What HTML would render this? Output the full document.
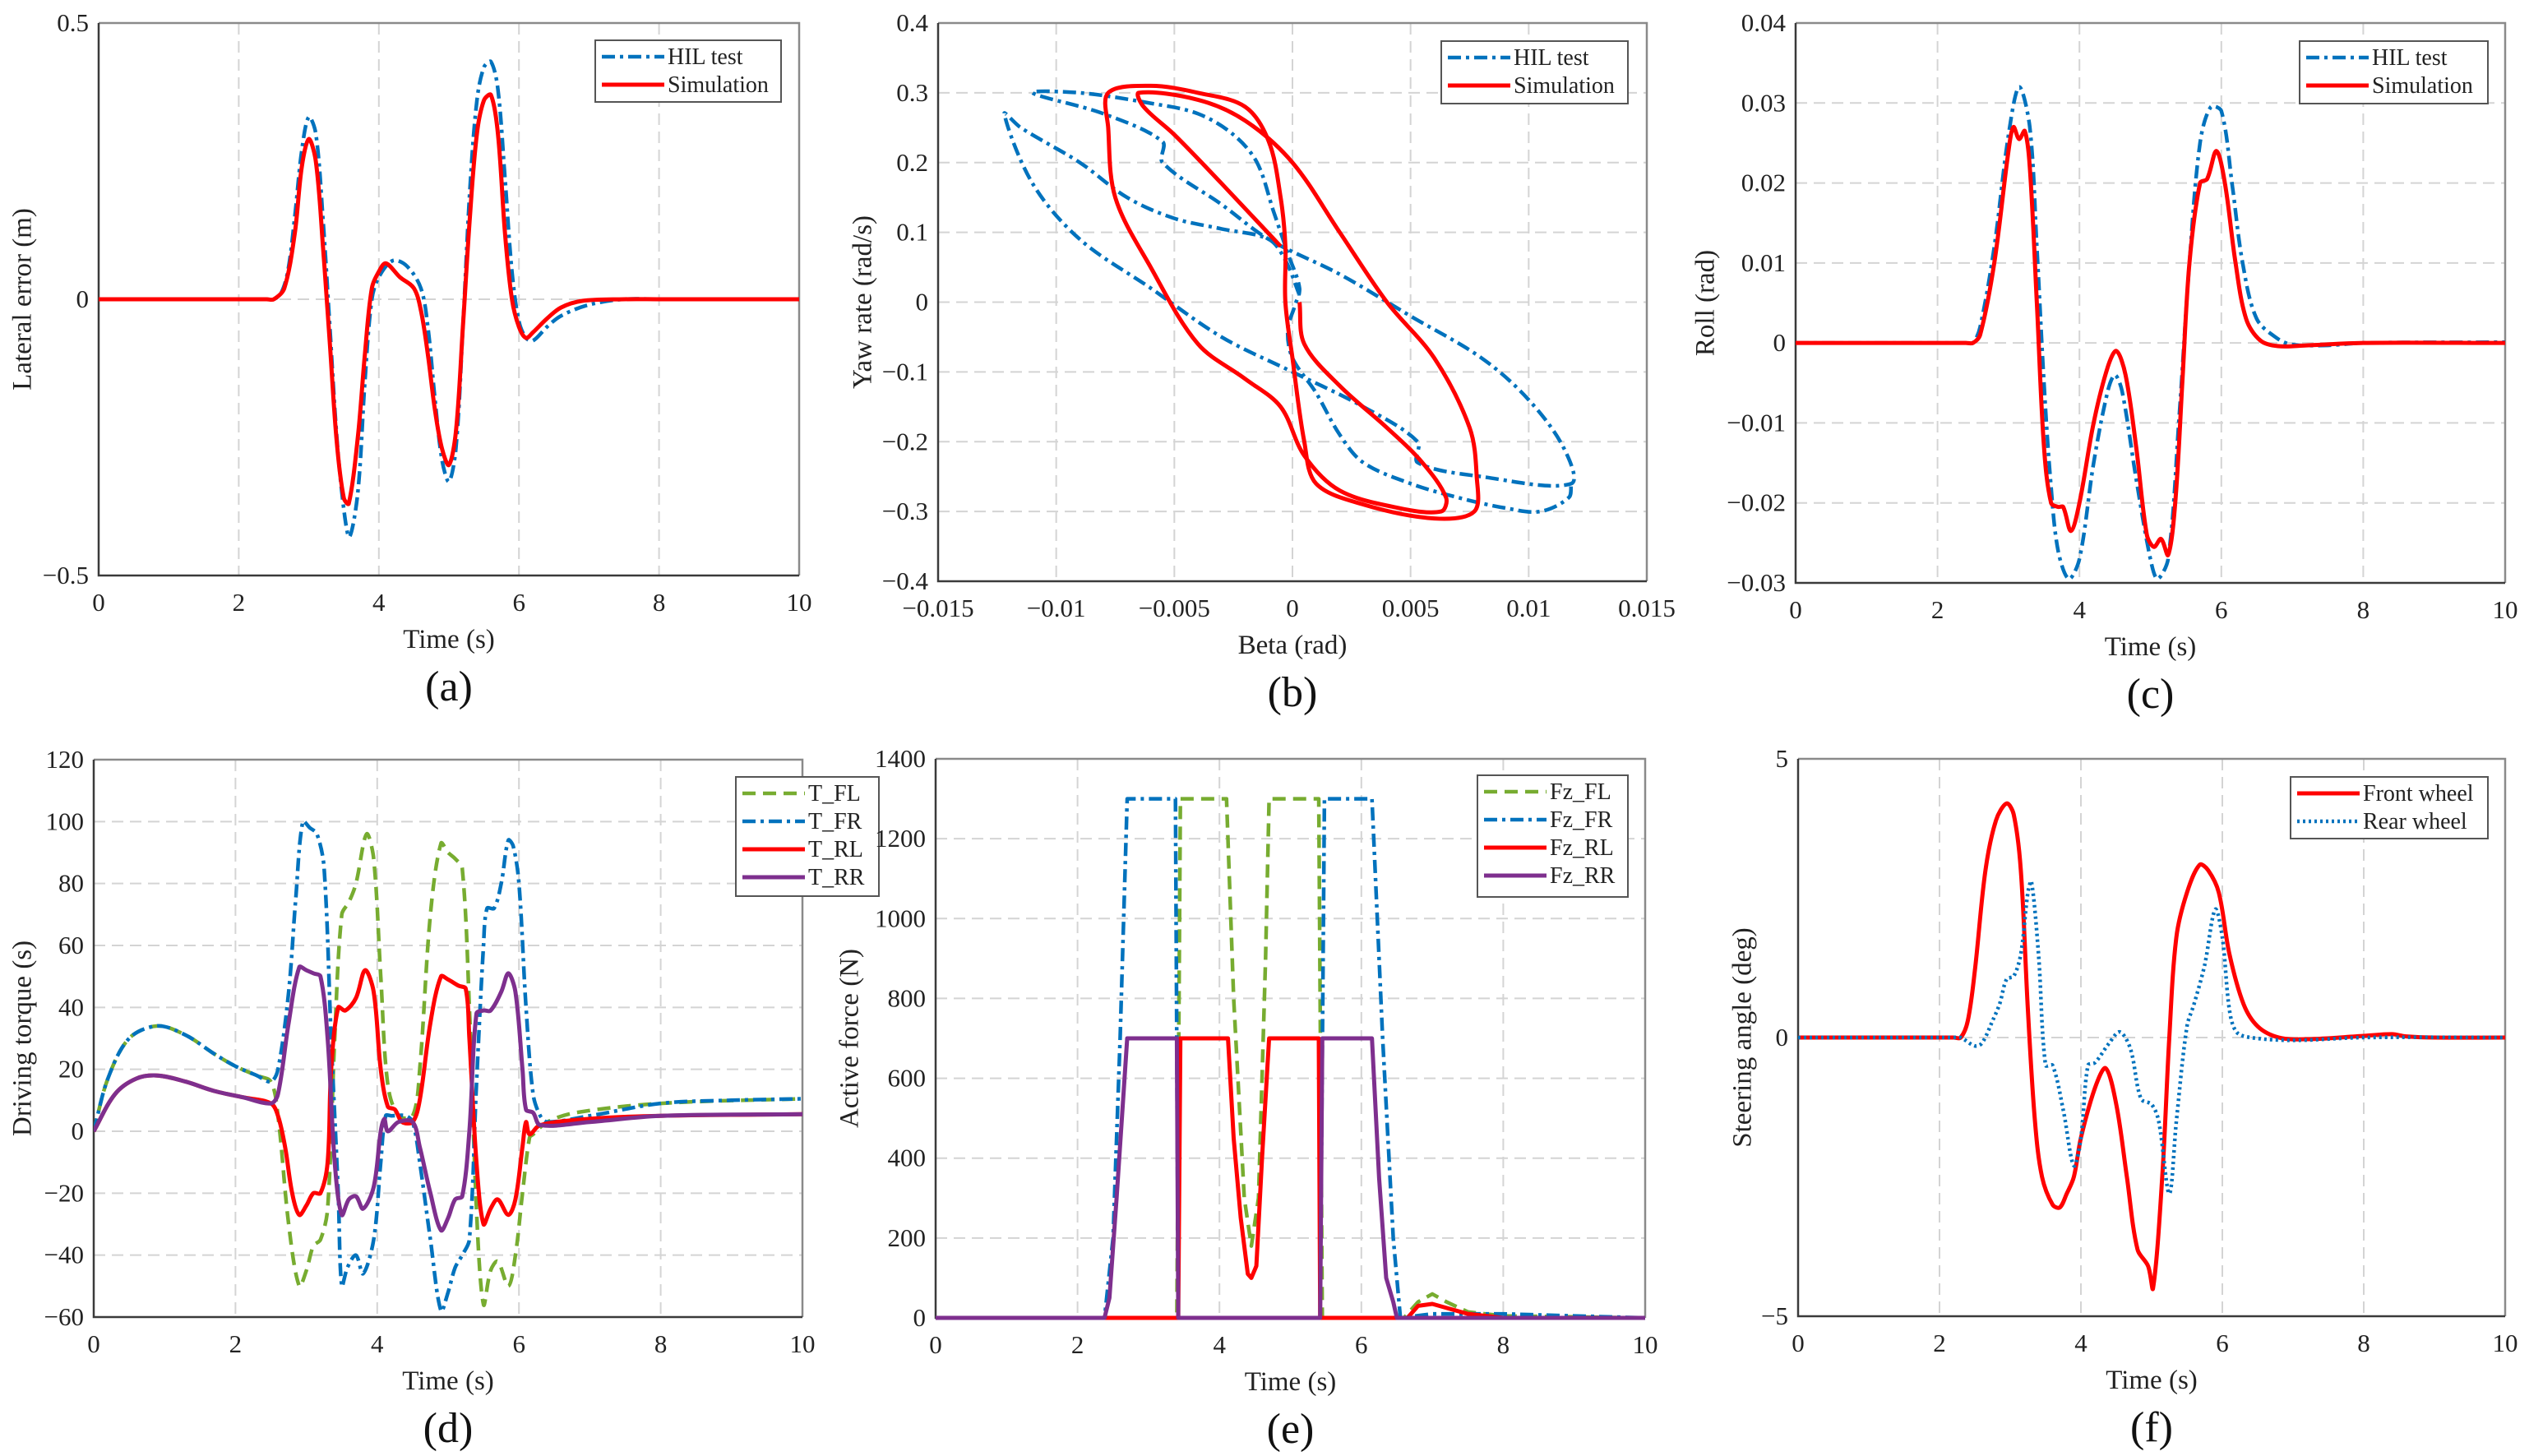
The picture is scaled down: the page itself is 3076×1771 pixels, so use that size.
<!DOCTYPE html>
<html><head><meta charset="utf-8"><style>
html,body{margin:0;padding:0;background:#fff;}
svg{display:block;font-family:"Liberation Serif",serif;}
</style></head><body>
<svg id="fig" width="3076" height="1771" viewBox="0 0 3076 1771" xmlns="http://www.w3.org/2000/svg"></svg>
<script>
// ---------- Panel (a) lateral error ----------
const aHilT=[0,2.0,2.4,2.5,2.6,2.7,2.8,2.9,3.0,3.1,3.2,3.3,3.4,3.5,3.58,3.7,3.8,3.9,4.0,4.2,4.4,4.6,4.7,4.8,4.9,5.0,5.1,5.2,5.3,5.4,5.5,5.6,5.7,5.8,5.9,6.0,6.1,6.2,6.4,6.6,7.0,7.5,8,10];
const aHilV=[0,0,0,0,0.01,0.05,0.15,0.27,0.33,0.3,0.15,-0.05,-0.25,-0.38,-0.43,-0.35,-0.15,0,0.04,0.07,0.06,0.02,-0.05,-0.18,-0.29,-0.33,-0.27,-0.05,0.2,0.36,0.42,0.43,0.38,0.22,0.05,-0.04,-0.07,-0.075,-0.05,-0.03,-0.01,0,0,0];
const aSimT=[0,2.0,2.4,2.5,2.65,2.8,2.9,3.0,3.1,3.2,3.3,3.4,3.5,3.57,3.7,3.8,3.9,4.0,4.1,4.3,4.5,4.6,4.7,4.8,4.9,5.0,5.1,5.2,5.3,5.4,5.5,5.6,5.7,5.8,5.9,6.0,6.1,6.2,6.4,6.6,6.9,7.5,8,10];
const aSimV=[0,0,0,0,0.02,0.12,0.24,0.29,0.25,0.1,-0.08,-0.26,-0.36,-0.37,-0.25,-0.1,0.02,0.05,0.065,0.04,0.02,-0.02,-0.1,-0.2,-0.27,-0.3,-0.24,-0.05,0.15,0.3,0.36,0.37,0.3,0.12,0,-0.05,-0.07,-0.06,-0.035,-0.015,-0.003,0,0,0];
// ---------- Panel (b) yaw rate vs beta ----------
const bHilBeta=[0.0003,-0.0003,-0.001,-0.003,-0.005,-0.007,-0.009,-0.0115,-0.0122,-0.011,-0.009,-0.006,-0.003,0,0.003,0.0053,0.0053,0.008,0.0118,0.0115,0.010,0.008,0.005,0.002,-0.001,-0.003,-0.0055,-0.0055,-0.008,-0.011,-0.009,-0.006,-0.004,-0.0025,-0.0015,-0.0008,-0.0002,0.0003,0.0001,-0.0002,0,0.001,0.002,0.003,0.005,0.007,0.009,0.0105,0.0117,0.0118];
const bHilYaw=[0.01,0.06,0.09,0.105,0.12,0.15,0.2,0.25,0.27,0.17,0.09,0.02,-0.05,-0.1,-0.15,-0.2,-0.23,-0.25,-0.26,-0.21,-0.14,-0.08,-0.02,0.04,0.09,0.14,0.2,0.23,0.27,0.30,0.30,0.285,0.27,0.24,0.2,0.13,0.07,0.02,-0.005,-0.04,-0.08,-0.13,-0.19,-0.23,-0.26,-0.28,-0.295,-0.30,-0.28,-0.26];
const bSimBeta=[0.0003,0.0005,0.002,0.004,0.0055,0.0065,0.0063,0.0045,0.002,0.0005,-0.0005,-0.002,-0.004,-0.006,-0.0075,-0.0078,-0.0078,-0.006,-0.004,-0.002,-0.001,-0.0005,-0.0003,-0.0003,0,0.0005,0.001,0.003,0.006,0.0077,0.0078,0.0075,0.006,0.004,0.002,0,-0.002,-0.004,-0.0065,-0.0063,-0.005,-0.003,-0.0005];
const bSimYaw=[0,-0.06,-0.12,-0.18,-0.23,-0.28,-0.30,-0.295,-0.27,-0.22,-0.15,-0.11,-0.06,0.05,0.15,0.25,0.30,0.31,0.30,0.28,0.23,0.15,0.08,0,-0.08,-0.2,-0.26,-0.29,-0.31,-0.30,-0.25,-0.18,-0.08,0,0.1,0.2,0.26,0.29,0.30,0.28,0.24,0.17,0.08];
// ---------- Panel (c) roll ----------
const cHilT=[0,2.0,2.4,2.5,2.6,2.8,3.0,3.15,3.3,3.4,3.5,3.6,3.7,3.85,4.0,4.2,4.4,4.5,4.6,4.8,5.0,5.1,5.25,5.4,5.55,5.7,5.85,6.0,6.15,6.3,6.5,6.8,7.0,7.5,8,10];
const cHilV=[0,0,0,0,0.002,0.012,0.026,0.032,0.027,0.012,-0.005,-0.018,-0.026,-0.0295,-0.027,-0.015,-0.006,-0.004,-0.006,-0.017,-0.027,-0.0295,-0.027,-0.01,0.01,0.025,0.0295,0.029,0.02,0.01,0.003,0.0005,-0.0002,-0.0003,0,0.0001];
const cSimT=[0,2.0,2.4,2.5,2.6,2.8,3.0,3.07,3.15,3.23,3.3,3.4,3.5,3.6,3.7,3.77,3.88,4.0,4.2,4.4,4.52,4.65,4.8,4.95,5.05,5.15,5.25,5.35,5.45,5.55,5.7,5.8,5.93,6.05,6.2,6.35,6.55,6.8,7.2,8,10];
const cSimV=[0,0,0,0,0.001,0.01,0.024,0.027,0.0255,0.0265,0.022,0.005,-0.013,-0.02,-0.0205,-0.0205,-0.0235,-0.02,-0.01,-0.003,-0.001,-0.004,-0.013,-0.024,-0.0255,-0.0245,-0.0265,-0.02,-0.005,0.01,0.02,0.0205,0.024,0.02,0.01,0.003,0.0003,-0.0004,-0.0003,0,0];
// ---------- Panel (d) driving torque ----------
const dFLT=[0,0.2,0.5,0.9,1.3,1.7,2.0,2.3,2.5,2.6,2.75,2.9,3.0,3.1,3.2,3.3,3.4,3.5,3.6,3.7,3.85,3.95,4.05,4.15,4.3,4.5,4.6,4.75,4.9,5.0,5.1,5.2,5.3,5.4,5.5,5.6,5.7,5.85,5.95,6.05,6.15,6.2,6.4,6.8,8,10];
const dFLV=[0,17,30,34,31,25,21,18,16,5,-30,-50,-45,-37,-35,-25,30,70,74,80,96,88,50,15,5,5,20,70,93,90,88,85,40,-25,-56,-45,-42,-50,-40,-20,-2,-1,3,6,9,10.5];
const dFRT=[0,0.2,0.5,0.9,1.3,1.7,2.0,2.3,2.5,2.6,2.75,2.85,2.95,3.05,3.15,3.25,3.35,3.45,3.5,3.58,3.7,3.8,3.95,4.05,4.12,4.2,4.4,4.5,4.6,4.75,4.9,5.0,5.1,5.2,5.3,5.4,5.5,5.55,5.65,5.75,5.85,5.92,6.0,6.1,6.2,6.3,6.4,7,8,9,10];
const dFRV=[0,17,30,34,31,25,21,18,16,20,45,75,100,98,96,85,30,-20,-50,-44,-40,-46,-35,-10,5,5,5,3,-10,-35,-58,-52,-44,-40,-35,15,60,72,72,80,94,92,80,40,12,5,3,5,9,10,10.5];
const dRLT=[0,0.3,0.6,0.9,1.3,1.7,2.1,2.5,2.6,2.7,2.8,2.9,3.0,3.1,3.2,3.3,3.35,3.45,3.55,3.7,3.83,3.95,4.05,4.15,4.25,4.35,4.5,4.6,4.75,4.9,5.0,5.15,5.25,5.3,5.4,5.5,5.6,5.7,5.85,5.95,6.05,6.1,6.15,6.3,7,8,10];
const dRLV=[0,12,17,18,16,13,11,9,5,-5,-20,-27,-24,-20,-20,-10,20,40,39,43,52,45,20,8,7,3,3,10,35,50,49,47,46,30,-10,-30,-25,-22,-27,-22,-5,3,-1,2,4,5,5.5];
const dRRT=[0,0.3,0.6,0.9,1.3,1.7,2.1,2.5,2.6,2.75,2.9,3.0,3.1,3.2,3.3,3.4,3.5,3.6,3.7,3.8,3.95,4.05,4.1,4.15,4.3,4.5,4.6,4.75,4.9,5.0,5.1,5.2,5.3,5.4,5.5,5.6,5.75,5.85,5.95,6.05,6.1,6.2,6.3,7,8,10];
const dRRV=[0,12,17,18,16,13,11,9,12,35,53,52,51,50,30,-10,-27,-22,-21,-25,-18,0,4,0,3,3,-5,-20,-32,-28,-22,-21,0,38,39,39,45,51,45,20,7,6,2,3,5,5.5];
// ---------- Panel (e) active force ----------
const eFLT=[0,3.4,3.45,4.1,4.2,4.35,4.45,4.55,4.65,4.7,5.4,5.45,6.6,6.8,7.0,7.2,7.5,8,10];
const eFLV=[0,0,1300,1300,800,300,180,300,900,1300,1300,0,0,40,60,40,15,5,0];
const eFRT=[0,2.38,2.5,2.6,2.7,3.38,3.42,5.42,5.48,6.15,6.3,6.45,6.55,7,8,9,10];
const eFRV=[0,0,200,700,1300,1300,0,0,1300,1300,700,200,0,10,10,5,0];
const eRLT=[0,3.42,3.45,4.12,4.2,4.3,4.4,4.45,4.52,4.6,4.7,5.4,5.42,6.65,6.8,7.0,7.2,7.5,8,10];
const eRLV=[0,0,700,700,450,250,110,100,130,400,700,700,0,0,30,35,25,10,0,0];
const eRRT=[0,2.38,2.45,2.55,2.7,3.4,3.42,5.42,5.45,6.15,6.25,6.35,6.45,6.5,10];
const eRRV=[0,0,50,300,700,700,0,0,700,700,350,100,40,0,0];
// ---------- Panel (f) steering angle ----------
const fFrontT=[0,1.8,2.2,2.3,2.4,2.5,2.65,2.8,2.95,3.05,3.15,3.25,3.35,3.45,3.6,3.7,3.8,3.9,4.0,4.2,4.35,4.5,4.65,4.8,4.95,5.02,5.15,5.25,5.35,5.5,5.68,5.8,5.95,6.1,6.3,6.5,6.8,7.2,8,8.4,8.6,9,10];
const fFrontV=[0,0,0,0,0.3,1.2,3,3.9,4.2,4,3,0.5,-1.5,-2.5,-3,-3.05,-2.8,-2.5,-1.8,-0.9,-0.55,-1.2,-2.5,-3.8,-4.1,-4.5,-2.5,0,1.8,2.6,3.1,3,2.6,1.5,0.6,0.2,0,-0.03,0.03,0.06,0.02,0,0];
const fRearT=[0,1.8,2.2,2.3,2.5,2.6,2.75,2.85,2.95,3.05,3.15,3.25,3.3,3.4,3.5,3.6,3.75,3.9,4.0,4.1,4.2,4.4,4.55,4.7,4.85,5.0,5.1,5.25,5.35,5.5,5.6,5.75,5.9,6.0,6.1,6.2,6.4,7,8,10];
const fRearV=[0,0,0,0,-0.15,-0.1,0.3,0.6,1.05,1.1,1.5,2.6,2.8,1.5,-0.5,-0.5,-1.3,-2.3,-1.8,-0.5,-0.45,-0.1,0.1,-0.2,-1.1,-1.2,-1.5,-2.8,-1.5,0.2,0.6,1.3,2.3,1.8,0.5,0.1,0,-0.05,0,0];
// ---------- tick labels ----------
const timeTicks=[0,2,4,6,8,10];
const aYTicks=[-0.5,0,0.5]; const aYLabels=["\u22120.5","0","0.5"];
const bXTicks=[-0.015,-0.01,-0.005,0,0.005,0.01,0.015]; const bXLabels=["\u22120.015","\u22120.01","\u22120.005","0","0.005","0.01","0.015"];
const bYTicks=[-0.4,-0.3,-0.2,-0.1,0,0.1,0.2,0.3,0.4]; const bYLabels=["\u22120.4","\u22120.3","\u22120.2","\u22120.1","0","0.1","0.2","0.3","0.4"];
const cYTicks=[-0.03,-0.02,-0.01,0,0.01,0.02,0.03,0.04]; const cYLabels=["\u22120.03","\u22120.02","\u22120.01","0","0.01","0.02","0.03","0.04"];
const dYTicks=[-60,-40,-20,0,20,40,60,80,100,120]; const dYLabels=["\u221260","\u221240","\u221220","0","20","40","60","80","100","120"];
const eYTicks=[0,200,400,600,800,1000,1200,1400]; const eYLabels=["0","200","400","600","800","1000","1200","1400"];
const fYTicks=[-5,0,5]; const fYLabels=["\u22125","0","5"];

const NS="http://www.w3.org/2000/svg";
const svg=document.getElementById('fig');
function mk(tag,attrs,parent){const e=document.createElementNS(NS,tag);for(const k in attrs)e.setAttribute(k,attrs[k]);(parent||svg).appendChild(e);return e;}
function dist(a,b){return Math.hypot(a[0]-b[0],a[1]-b[1])||1e-6;}
function smoothPath(pts){
  let d='M'+pts[0][0].toFixed(1)+','+pts[0][1].toFixed(1);
  for(let i=0;i<pts.length-1;i++){
    const p0=pts[Math.max(0,i-1)],p1=pts[i],p2=pts[i+1],p3=pts[Math.min(pts.length-1,i+2)];
    const d01=dist(p0,p1),d12=dist(p1,p2),d23=dist(p2,p3);
    const k1=d12/(d01+d12)/3, k2=d12/(d12+d23)/3;
    const c1=[p1[0]+(p2[0]-p0[0])*k1,p1[1]+(p2[1]-p0[1])*k1];
    const c2=[p2[0]-(p3[0]-p1[0])*k2,p2[1]-(p3[1]-p1[1])*k2];
    d+=' C'+c1[0].toFixed(1)+','+c1[1].toFixed(1)+' '+c2[0].toFixed(1)+','+c2[1].toFixed(1)+' '+p2[0].toFixed(1)+','+p2[1].toFixed(1);
  }
  return d;
}
const STY={
  hil:{stroke:'#0072BD',w:4.5,dash:'16 6 4 6'},
  sim:{stroke:'#FF0000',w:5,dash:''},
  fl:{stroke:'#77AC30',w:4.5,dash:'16 9'},
  fr:{stroke:'#0072BD',w:4.5,dash:'16 6 4 6'},
  rl:{stroke:'#FF0000',w:5,dash:''},
  rr:{stroke:'#7E2F8E',w:5,dash:''},
  rear:{stroke:'#0072BD',w:4.5,dash:'3 4'}
};
function panel(p){
  const g=mk('g',{});
  
  
  const X=v=>p.x0+(v-p.xmin)/(p.xmax-p.xmin)*(p.x1-p.x0);
  const Y=v=>p.y1-(v-p.ymin)/(p.ymax-p.ymin)*(p.y1-p.y0);
  p.xt.forEach(v=>{const l=mk('line',{x1:X(v),x2:X(v),y1:p.y0,y2:p.y1,stroke:'#d4d4d4','stroke-width':2,'stroke-dasharray':'14 8'},g);});
  p.yt.forEach(v=>{const l=mk('line',{x1:p.x0,x2:p.x1,y1:Y(v),y2:Y(v),stroke:'#d4d4d4','stroke-width':2,'stroke-dasharray':'14 8'},g);});
  const tb=mk('path',{d:`M${p.x0},${p.y0} L${p.x1},${p.y0} L${p.x1},${p.y1}`,fill:'none',stroke:'#8a8a8a','stroke-width':2.5},g);
  
  const ax=mk('path',{d:`M${p.x0},${p.y0} L${p.x0},${p.y1} L${p.x1},${p.y1}`,fill:'none',stroke:'#3a3a3a','stroke-width':2.5},g);
  
  p.xt.forEach((v,i)=>{const t=mk('text',{x:X(v),y:p.y1+43,'font-size':31,'text-anchor':'middle',fill:'#222'},g);t.textContent=p.xl[i];});
  p.yt.forEach((v,i)=>{const t=mk('text',{x:p.x0-12,y:Y(v)+10,'font-size':31,'text-anchor':'end',fill:'#222'},g);t.textContent=p.yl[i];});
  const xt=mk('text',{x:(p.x0+p.x1)/2,y:p.y1+88,'font-size':33,'text-anchor':'middle',fill:'#222'},g);xt.textContent=p.xtitle;
  
  const yc=(p.y0+p.y1)/2;
  const yt=mk('text',{x:p.ytx,y:yc,'font-size':33,'text-anchor':'middle','dominant-baseline':'middle',fill:'#222',transform:`rotate(-90 ${p.ytx} ${yc})`},g);yt.textContent=p.ytitle;
  
  const cap=mk('text',{x:(p.x0+p.x1)/2,y:p.y1+152,'font-size':52,'text-anchor':'middle',fill:'#111'},g);cap.textContent=p.cap;
  
  const clipId='clip'+p.id;
  const cp=mk('clipPath',{id:clipId},g);mk('rect',{x:p.x0,y:p.y0-4,width:p.x1-p.x0,height:p.y1-p.y0+8},cp);
  const sg=mk('g',{'clip-path':`url(#${clipId})`},g);
  p.series.forEach(s=>{
    const pts=s.xs.map((v,i)=>[X(v),Y(s.ys[i])]);
    const st=STY[s.style];
    const d=p.linear?'M'+pts.map(q=>q[0].toFixed(1)+','+q[1].toFixed(1)).join(' L'):smoothPath(pts);
    const path=mk('path',{d:d,fill:'none',stroke:st.stroke,'stroke-width':st.w,'stroke-linejoin':'round','stroke-dasharray':st.dash},sg);
    
    
  });
  const L=p.leg;
  const lg=mk('g',{},g);
  
  mk('rect',{x:L.x,y:L.y,width:L.w,height:L.h,fill:'#fff',stroke:'#555','stroke-width':2},lg);
  p.series.forEach((s,i)=>{
    const st=STY[s.style];
    const cy=L.y+20+i*34;
    mk('line',{x1:L.x+8,x2:L.x+84,y1:cy,y2:cy,stroke:st.stroke,'stroke-width':st.w,'stroke-dasharray':st.dash},lg);
    const t=mk('text',{x:L.x+88,y:cy+9,'font-size':28,fill:'#222'},lg);t.textContent=s.name;
    
  });
}
const tl=timeTicks.map(String);
panel({id:'a',x0:120,x1:972,y0:28,y1:700,xmin:0,xmax:10,ymin:-0.5,ymax:0.5,xt:timeTicks,xl:tl,yt:aYTicks,yl:aYLabels,xtitle:'Time (s)',ytitle:'Lateral error (m)',ytx:30,cap:'(a)',
  leg:{x:724,y:49,w:226,h:75},series:[{name:'HIL test',style:'hil',xs:aHilT,ys:aHilV},{name:'Simulation',style:'sim',xs:aSimT,ys:aSimV}]});
panel({id:'b',x0:1141,x1:2003,y0:28,y1:707,xmin:-0.015,xmax:0.015,ymin:-0.4,ymax:0.4,xt:bXTicks,xl:bXLabels,yt:bYTicks,yl:bYLabels,xtitle:'Beta (rad)',ytitle:'Yaw rate (rad/s)',ytx:1052,cap:'(b)',
  leg:{x:1753,y:50,w:227,h:76},series:[{name:'HIL test',style:'hil',xs:bHilBeta,ys:bHilYaw},{name:'Simulation',style:'sim',xs:bSimBeta,ys:bSimYaw}]});
panel({id:'c',x0:2184,x1:3047,y0:28,y1:709,xmin:0,xmax:10,ymin:-0.03,ymax:0.04,xt:timeTicks,xl:tl,yt:cYTicks,yl:cYLabels,xtitle:'Time (s)',ytitle:'Roll (rad)',ytx:2077,cap:'(c)',
  leg:{x:2797,y:50,w:229,h:76},series:[{name:'HIL test',style:'hil',xs:cHilT,ys:cHilV},{name:'Simulation',style:'sim',xs:cSimT,ys:cSimV}]});
panel({id:'d',x0:114,x1:976,y0:924,y1:1602,xmin:0,xmax:10,ymin:-60,ymax:120,xt:timeTicks,xl:tl,yt:dYTicks,yl:dYLabels,xtitle:'Time (s)',ytitle:'Driving torque (s)',ytx:30,cap:'(d)',
  leg:{x:895,y:945,w:174,h:145},series:[{name:'T_FL',style:'fl',xs:dFLT,ys:dFLV},{name:'T_FR',style:'fr',xs:dFRT,ys:dFRV},{name:'T_RL',style:'rl',xs:dRLT,ys:dRLV},{name:'T_RR',style:'rr',xs:dRRT,ys:dRRV}]});
panel({id:'e',x0:1138,x1:2001,y0:923,y1:1603,xmin:0,xmax:10,ymin:0,ymax:1400,xt:timeTicks,xl:tl,yt:eYTicks,yl:eYLabels,xtitle:'Time (s)',ytitle:'Active force (N)',ytx:1036,cap:'(e)',linear:true,
  leg:{x:1797,y:943,w:183,h:148},series:[{name:'Fz_FL',style:'fl',xs:eFLT,ys:eFLV},{name:'Fz_FR',style:'fr',xs:eFRT,ys:eFRV},{name:'Fz_RL',style:'rl',xs:eRLT,ys:eRLV},{name:'Fz_RR',style:'rr',xs:eRRT,ys:eRRV}]});
panel({id:'f',x0:2187,x1:3047,y0:923,y1:1601,xmin:0,xmax:10,ymin:-5,ymax:5,xt:timeTicks,xl:tl,yt:fYTicks,yl:fYLabels,xtitle:'Time (s)',ytitle:'Steering angle (deg)',ytx:2122,cap:'(f)',
  leg:{x:2786,y:945,w:240,h:75},series:[{name:'Front wheel',style:'sim',xs:fFrontT,ys:fFrontV},{name:'Rear wheel',style:'rear',xs:fRearT,ys:fRearV}]});
</script>
</body></html>
